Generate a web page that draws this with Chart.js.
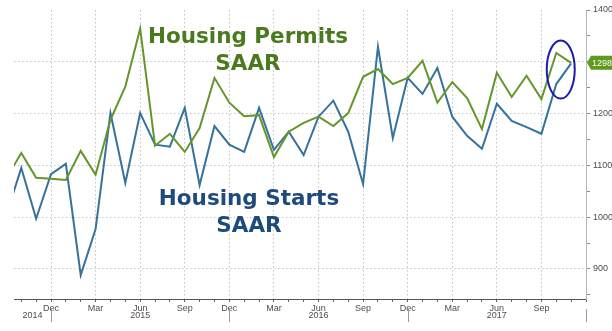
<!DOCTYPE html>
<html>
<head>
<meta charset="utf-8">
<script src="https://cdn.jsdelivr.net/npm/chart.js@4.4.1/dist/chart.umd.min.js"></script>
<style>
  html, body { margin: 0; padding: 0; background: #fff; }
  #wrap { width: 612px; height: 331px; position: relative; }
</style>
</head>
<body>
<div id="wrap"><canvas id="housingChart" width="612" height="331"></canvas></div>
<script>
// Monthly data, Sep 2014 .. Nov 2017 (thousands, SAAR)
const months = [
  'Sep 2014', 'Oct 2014', 'Nov 2014', 'Dec 2014',
  'Jan 2015', 'Feb 2015', 'Mar 2015', 'Apr 2015', 'May 2015', 'Jun 2015',
  'Jul 2015', 'Aug 2015', 'Sep 2015', 'Oct 2015', 'Nov 2015', 'Dec 2015',
  'Jan 2016', 'Feb 2016', 'Mar 2016', 'Apr 2016', 'May 2016', 'Jun 2016',
  'Jul 2016', 'Aug 2016', 'Sep 2016', 'Oct 2016', 'Nov 2016', 'Dec 2016',
  'Jan 2017', 'Feb 2017', 'Mar 2017', 'Apr 2017', 'May 2017', 'Jun 2017',
  'Jul 2017', 'Aug 2017', 'Sep 2017', 'Oct 2017', 'Nov 2017'
];
const permits = [
  1075, 1124, 1076, 1074,
  1072, 1128, 1082, 1188, 1252, 1364, 1138, 1161, 1126, 1172, 1269, 1221,
  1195, 1197, 1116, 1165, 1182, 1194, 1176, 1201, 1271, 1286, 1257, 1269,
  1302, 1221, 1261, 1230, 1170, 1279, 1232, 1273, 1228, 1317, 1298
];
const starts = [
  1005, 1095, 997, 1083,
  1103, 888, 977, 1201, 1066, 1201, 1140, 1136, 1211, 1062, 1176, 1140,
  1126, 1211, 1130, 1165, 1120, 1194, 1225, 1165, 1064, 1329, 1153, 1269,
  1238, 1288, 1194, 1157, 1132, 1219, 1186, 1174, 1161, 1257, 1297
];
const yTicks = [850, 900, 950, 1000, 1050, 1100, 1150, 1200, 1250, 1300, 1350, 1400];
const years = ['2014', '2015', '2016', '2017'];
const yearBreaks = [3, 15, 27, 39]; // Dec positions (month index)

const GREEN = '#64962a';
const BLUE = '#36729c';
const tickFont = { family: "'Liberation Sans Narrow', 'Liberation Sans', sans-serif", size: 9 };

// Big labels, year row, last-value badge and circle
const overlay = {
  id: 'overlay',
  afterDraw(chart) {
    const ctx = chart.ctx;
    const x = chart.scales.x, y = chart.scales.y;

    // titles
    ctx.save();
    ctx.font = 'bold 21.5px "DejaVu Sans"';
    ctx.textAlign = 'center';
    ctx.fillStyle = '#4b7a1e';
    ctx.fillText('Housing Permits', 248, 43);
    ctx.fillText('SAAR', 248, 70);
    ctx.fillStyle = '#1f4b7c';
    ctx.fillText('Housing Starts', 249, 205);
    ctx.fillText('SAAR', 249, 232);
    ctx.restore();

    // year row
    ctx.save();
    ctx.font = "9px 'Liberation Sans Narrow', 'Liberation Sans', sans-serif";
    ctx.fillStyle = '#4d4d4d';
    ctx.textAlign = 'center';
    ctx.textBaseline = 'middle';
    ctx.strokeStyle = '#9a9a9a';
    ctx.lineWidth = 1;
    let prev = x.min;
    years.forEach((yr, i) => {
      const b = yearBreaks[i];
      const xb = Math.round(x.getPixelForValue(b)) + 0.5;
      ctx.beginPath();
      ctx.moveTo(xb, 309);
      ctx.lineTo(xb, 322);
      ctx.stroke();
      ctx.fillText(yr, x.getPixelForValue((prev + b) / 2), 316);
      prev = b;
    });
    ctx.restore();

    // last value badge
    const last = permits[permits.length - 1];
    const py = y.getPixelForValue(last);
    const ax = chart.chartArea.right;
    ctx.save();
    ctx.fillStyle = '#5e9a1c';
    ctx.beginPath();
    ctx.moveTo(ax + 1, py);
    ctx.lineTo(ax + 5, py - 7);
    ctx.lineTo(612, py - 7);
    ctx.lineTo(612, py + 7);
    ctx.lineTo(ax + 5, py + 7);
    ctx.closePath();
    ctx.fill();
    ctx.fillStyle = '#fff';
    ctx.font = "9px 'Liberation Sans Narrow', 'Liberation Sans', sans-serif";
    ctx.textBaseline = 'middle';
    ctx.fillText(String(last), ax + 6, py + 0.5);
    ctx.restore();

    // circle round the last two months
    ctx.save();
    ctx.strokeStyle = '#1c1ca8';
    ctx.lineWidth = 2;
    ctx.beginPath();
    ctx.ellipse(x.getPixelForValue(37.3), y.getPixelForValue(1285), 14, 29, 0, 0, Math.PI * 2);
    ctx.stroke();
    ctx.restore();
  }
};

function initChart() {
  const ctx = document.getElementById('housingChart');
  new Chart(ctx, {
    type: 'line',
    data: {
      datasets: [
        {
          label: 'Housing Permits SAAR',
          data: permits.map((v, i) => ({ x: i, y: v })),
          borderColor: GREEN,
          borderWidth: 2,
          pointRadius: 0,
          tension: 0
        },
        {
          label: 'Housing Starts SAAR',
          data: starts.map((v, i) => ({ x: i, y: v })),
          borderColor: BLUE,
          borderWidth: 2,
          pointRadius: 0,
          tension: 0
        }
      ]
    },
    options: {
      responsive: false,
      animation: false,
      devicePixelRatio: 1,
      layout: { padding: { left: 14, top: 10, right: 0, bottom: 0 } },
      plugins: {
        legend: { display: false },
        tooltip: { enabled: false }
      },
      scales: {
        x: {
          type: 'linear',
          min: 0.51,
          max: 39,
          afterBuildTicks: scale => {
            const t = [];
            for (let i = 1; i <= 39; i++) t.push({ value: i });
            scale.ticks = t;
          },
          afterFit: scale => { scale.height = 32; },
          ticks: {
            autoSkip: false,
            maxRotation: 0,
            padding: 1,
            color: '#4d4d4d',
            font: tickFont,
            callback: v => (v % 3 === 0 && months[v]) ? months[v].slice(0, 3) : ''
          },
          grid: {
            color: c => (c.tick && c.tick.value % 3 === 0 && c.tick.value < 39) ? '#c2c2c2' : 'rgba(0,0,0,0)',
            tickColor: '#666',
            tickLength: 3
          },
          border: { color: '#555', width: 1, dash: [1.5, 2.5] }
        },
        y: {
          position: 'right',
          min: 842,
          max: 1400,
          afterBuildTicks: scale => { scale.ticks = yTicks.map(v => ({ value: v })); },
          afterFit: scale => { scale.width = 26; },
          ticks: {
            padding: 3,
            color: '#4d4d4d',
            font: tickFont,
            callback: v => (v % 100 === 0) ? v : ''
          },
          grid: {
            color: c => (c.tick && c.tick.value % 100 === 0 && c.tick.value < 1400) ? '#c6c6c6' : 'rgba(0,0,0,0)',
            tickColor: '#8a8a8a',
            tickLength: 4
          },
          border: { color: '#a7bacb', width: 1, dash: [1.5, 2.5] }
        }
      }
    },
    plugins: [overlay]
  });
}

document.addEventListener('DOMContentLoaded', initChart);
</script>
</body>
</html>
